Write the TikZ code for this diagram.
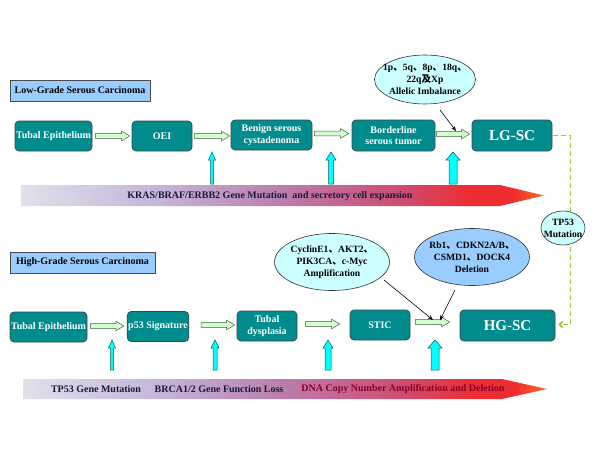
\documentclass[tikz,border=0pt]{standalone}
\usepackage{fontspec}
\setmainfont{Liberation Serif}
\newfontfamily\cjk{Noto Sans CJK SC}
\usetikzlibrary{shapes.geometric,arrows.meta,calc}
\definecolor{tealc}{RGB}{0,140,140}
\definecolor{boxd}{RGB}{60,70,70}
\definecolor{titlefill}{RGB}{153,204,255}
\definecolor{lcyan}{RGB}{204,255,255}
\definecolor{lblue}{RGB}{153,204,255}
\definecolor{gfill}{RGB}{210,255,205}
\definecolor{gdark}{RGB}{70,90,70}
\definecolor{cyanfill}{RGB}{0,255,255}
\definecolor{cdark}{RGB}{0,90,90}
\definecolor{dgreen}{RGB}{153,204,51}
\definecolor{navy}{RGB}{25,25,60}
\definecolor{dnared}{RGB}{140,0,40}
\definecolor{b1}{RGB}{224,224,236}
\definecolor{b2}{RGB}{196,182,216}
\definecolor{b3}{RGB}{186,125,172}
\definecolor{b4}{RGB}{205,78,115}
\definecolor{b5}{RGB}{236,45,50}
\definecolor{b6}{RGB}{255,110,30}
\pgfdeclarehorizontalshading{barshade}{100bp}{color(0bp)=(b1); color(25bp)=(b1); color(38bp)=(b2); color(50bp)=(b3); color(61bp)=(b4); color(68bp)=(b5); color(72bp)=(b5); color(75bp)=(b6); color(100bp)=(b6)}
\newcommand{\dun}{{\cjk 、}}
\newcommand{\ji}{{\cjk 及}}
\begin{document}
\begin{tikzpicture}[x=1pt,y=-1pt,
  box/.style={draw=boxd, line width=0.7pt, fill=tealc, rounded corners=4pt, text=white,
    font=\bfseries\fontsize{10}{11.5}\selectfont, align=center, inner sep=1pt},
  bigbox/.style={box, font=\bfseries\fontsize{15}{17}\selectfont},
  titlebox/.style={draw=black!70, line width=0.7pt, fill=titlefill, inner sep=1pt,
    font=\bfseries\fontsize{10}{12}\selectfont},
  ellshape/.style={ellipse, draw=black!80, line width=0.6pt, inner sep=0pt},
  elltext/.style={align=center, inner sep=0pt, font=\bfseries\fontsize{9.6}{11.8}\selectfont},
  bartext/.style={inner sep=0pt, text=navy, font=\bfseries\fontsize{10}{12}\selectfont},
  rarrow/.style={draw=gdark, fill=gfill, line width=0.5pt,
    to path={let \p1=(\tikztostart), \p2=(\tikztotarget) in
      (\x1,{\y1-2.3pt}) -- ({\x2-8pt},{\y1-2.3pt}) -- ({\x2-8pt},{\y1-4.8pt}) -- (\x2,\y1)
      -- ({\x2-8pt},{\y1+4.8pt}) -- ({\x2-8pt},{\y1+2.3pt}) -- (\x1,{\y1+2.3pt}) -- cycle}},
  upar/.style n args={2}{draw=cdark, fill=cyanfill, line width=0.5pt,
    to path={let \p1=(\tikztostart), \p2=(\tikztotarget) in
      ({\x1-#1pt},\y1) -- ({\x1-#1pt},{\y2-8pt}) -- ({\x1-#2pt},{\y2-8pt}) -- (\x1,\y2)
      -- ({\x1+#2pt},{\y2-8pt}) -- ({\x1+#1pt},{\y2-8pt}) -- ({\x1+#1pt},\y1) -- cycle}},
  blk/.style={draw=black, line width=0.6pt, -{Stealth[length=5pt,width=4pt]}},
  dashg/.style={draw=dgreen, line width=1.7pt, dash pattern=on 5pt off 3pt}
]
\useasboundingbox (0,0) rectangle (600,450);
\fill[white] (0,0) rectangle (600,450);

% ---------- titles ----------
\node[titlebox, minimum width=140, minimum height=21] (lgt) at (80,90.5) {Low-Grade Serous Carcinoma};
\node[titlebox, minimum width=145, minimum height=21] (hgt) at (82.5,262.5) {High-Grade Serous Carcinoma};

% ---------- gradient bars ----------
\shade[shading=barshade] (21,185) -- (500,185) -- (544,195.5) -- (500,206) -- (21,206) -- cycle;
\node[bartext] (bt1) at (270,196) {KRAS/BRAF/ERBB2 Gene Mutation\ \ and secretory cell expansion};
\shade[shading=barshade] (23,379) -- (502,379) -- (547,389) -- (502,399) -- (23,399) -- cycle;
\node[bartext] (bt2) at (96,389.5) {TP53 Gene Mutation};
\node[bartext] (bt3) at (219,389.5) {BRCA1/2 Gene Function Loss};
\node[bartext, text=dnared] (bt4) at (403,389.5) {DNA Copy Number Amplification and Deletion};

% ---------- top row ----------
\node[box, minimum width=77, minimum height=30] (te1) at (53.5,136) {Tubal Epithelium};
\node[box, minimum width=60, minimum height=30] (oei) at (162,136) {OEI};
\node[box, minimum width=81, minimum height=30] (ben) at (271.5,135) {Benign serous\\cystadenoma};
\node[box, minimum width=83, minimum height=31] (bor) at (393.5,135.5) {Borderline\\serous tumor};
\node[bigbox, minimum width=80, minimum height=31] (lgsc) at (512,135.5) {LG-SC};

\draw[rarrow] ([xshift=3pt]te1.east) to ([xshift=-2pt]oei.west);
\draw[rarrow] ([xshift=2pt]oei.east) to ([xshift=-1pt,yshift=1pt]ben.west);
\draw[rarrow] ([xshift=2pt,yshift=1.5pt]ben.east) to ([xshift=-3pt,yshift=1.5pt]bor.west);
\draw[rarrow] ([xshift=1pt,yshift=1.5pt]bor.east) to ([xshift=-2pt,yshift=1.5pt]lgsc.west);

\coordinate (ua1) at (212,184); \coordinate (ua1t) at (212,152);
\coordinate (ua2) at (331,184); \coordinate (ua2t) at (331,152);
\coordinate (ua3) at (453,184); \coordinate (ua3t) at (453,152);
\draw[upar={1.5}{3.5}] (ua1) to (ua1t);
\draw[upar={2.5}{5}] (ua2) to (ua2t);
\draw[upar={4}{7}] (ua3) to (ua3t);

\node[ellshape, fill=lcyan, minimum width=101, minimum height=49] (e1) at (425,79.5) {};
\node[elltext] (e1t) at (e1.center) {1p\dun5q\dun8p\dun18q\dun\\22q\ji Xp\\Allelic Imbalance};
\coordinate (k1s) at (440,110); \coordinate (k1e) at (456,131);
\draw[blk] (k1s) -- (k1e);

% ---------- bottom row ----------
\node[box, minimum width=77, minimum height=30] (te2) at (48.5,327) {Tubal Epithelium};
\node[box, minimum width=60, minimum height=30] (p53) at (158,326.5) {p53 Signature};
\node[box, minimum width=60, minimum height=30] (dys) at (267,326) {Tubal\\dysplasia};
\node[box, minimum width=60, minimum height=30] (stic) at (380,325) {STIC};
\node[bigbox, minimum width=95, minimum height=31] (hgsc) at (507.5,325.5) {HG-SC};

\draw[rarrow] ([xshift=3pt,yshift=1pt]te2.east) to ([xshift=-3pt,yshift=1pt]p53.west);
\draw[rarrow] ([xshift=12pt,yshift=1.5pt]p53.east) to ([xshift=-2pt,yshift=1.5pt]dys.west);
\draw[rarrow] ([xshift=8pt,yshift=2pt]dys.east) to ([xshift=-10pt,yshift=2pt]stic.west);
\draw[rarrow] ([xshift=5pt,yshift=3pt]stic.east) to ([xshift=-10pt,yshift=3pt]hgsc.west);

\coordinate (ub1) at (112,370); \coordinate (ub1t) at (112,340);
\coordinate (ub2) at (215,370); \coordinate (ub2t) at (215,340);
\coordinate (ub3) at (328,370); \coordinate (ub3t) at (328,340);
\coordinate (ub4) at (435,370); \coordinate (ub4t) at (435,340);
\draw[upar={1.5}{3.5}] (ub1) to (ub1t);
\draw[upar={2}{4}] (ub2) to (ub2t);
\draw[upar={3}{5}] (ub3) to (ub3t);
\draw[upar={4}{7}] (ub4) to (ub4t);

\node[ellshape, fill=lcyan, minimum width=115, minimum height=57] (e2) at (332,262) {};
\node[elltext] (e2t) at (e2.center) {CyclinE1\dun AKT2\dun\\PIK3CA\dun c-Myc\\Amplification};
\node[ellshape, fill=lblue, minimum width=115, minimum height=57] (e3) at (472,257) {};
\node[elltext] (e3t) at (e3.center) {Rb1\dun CDKN2A/B\dun\\CSMD1\dun DOCK4\\Deletion};
\coordinate (k2s) at (384,280); \coordinate (k2e) at (433,320);
\coordinate (k3s) at (455,290); \coordinate (k3e) at (440,320);
\draw[blk] (k2s) -- (k2e);
\draw[blk] (k3s) -- (k3e);

% ---------- TP53 link ----------
\draw[dashg, -{Straight Barb[length=3pt,width=6pt]}] ([xshift=1pt]lgsc.east) -- ++(17,0) |- ([xshift=3pt,yshift=1pt]hgsc.east);
\node[ellshape, fill=lcyan, minimum width=44, minimum height=34] (e4) at (563,228) {};
\node[elltext] (e4t) at (e4.center) {TP53\\Mutation};
\end{tikzpicture}
\end{document}
